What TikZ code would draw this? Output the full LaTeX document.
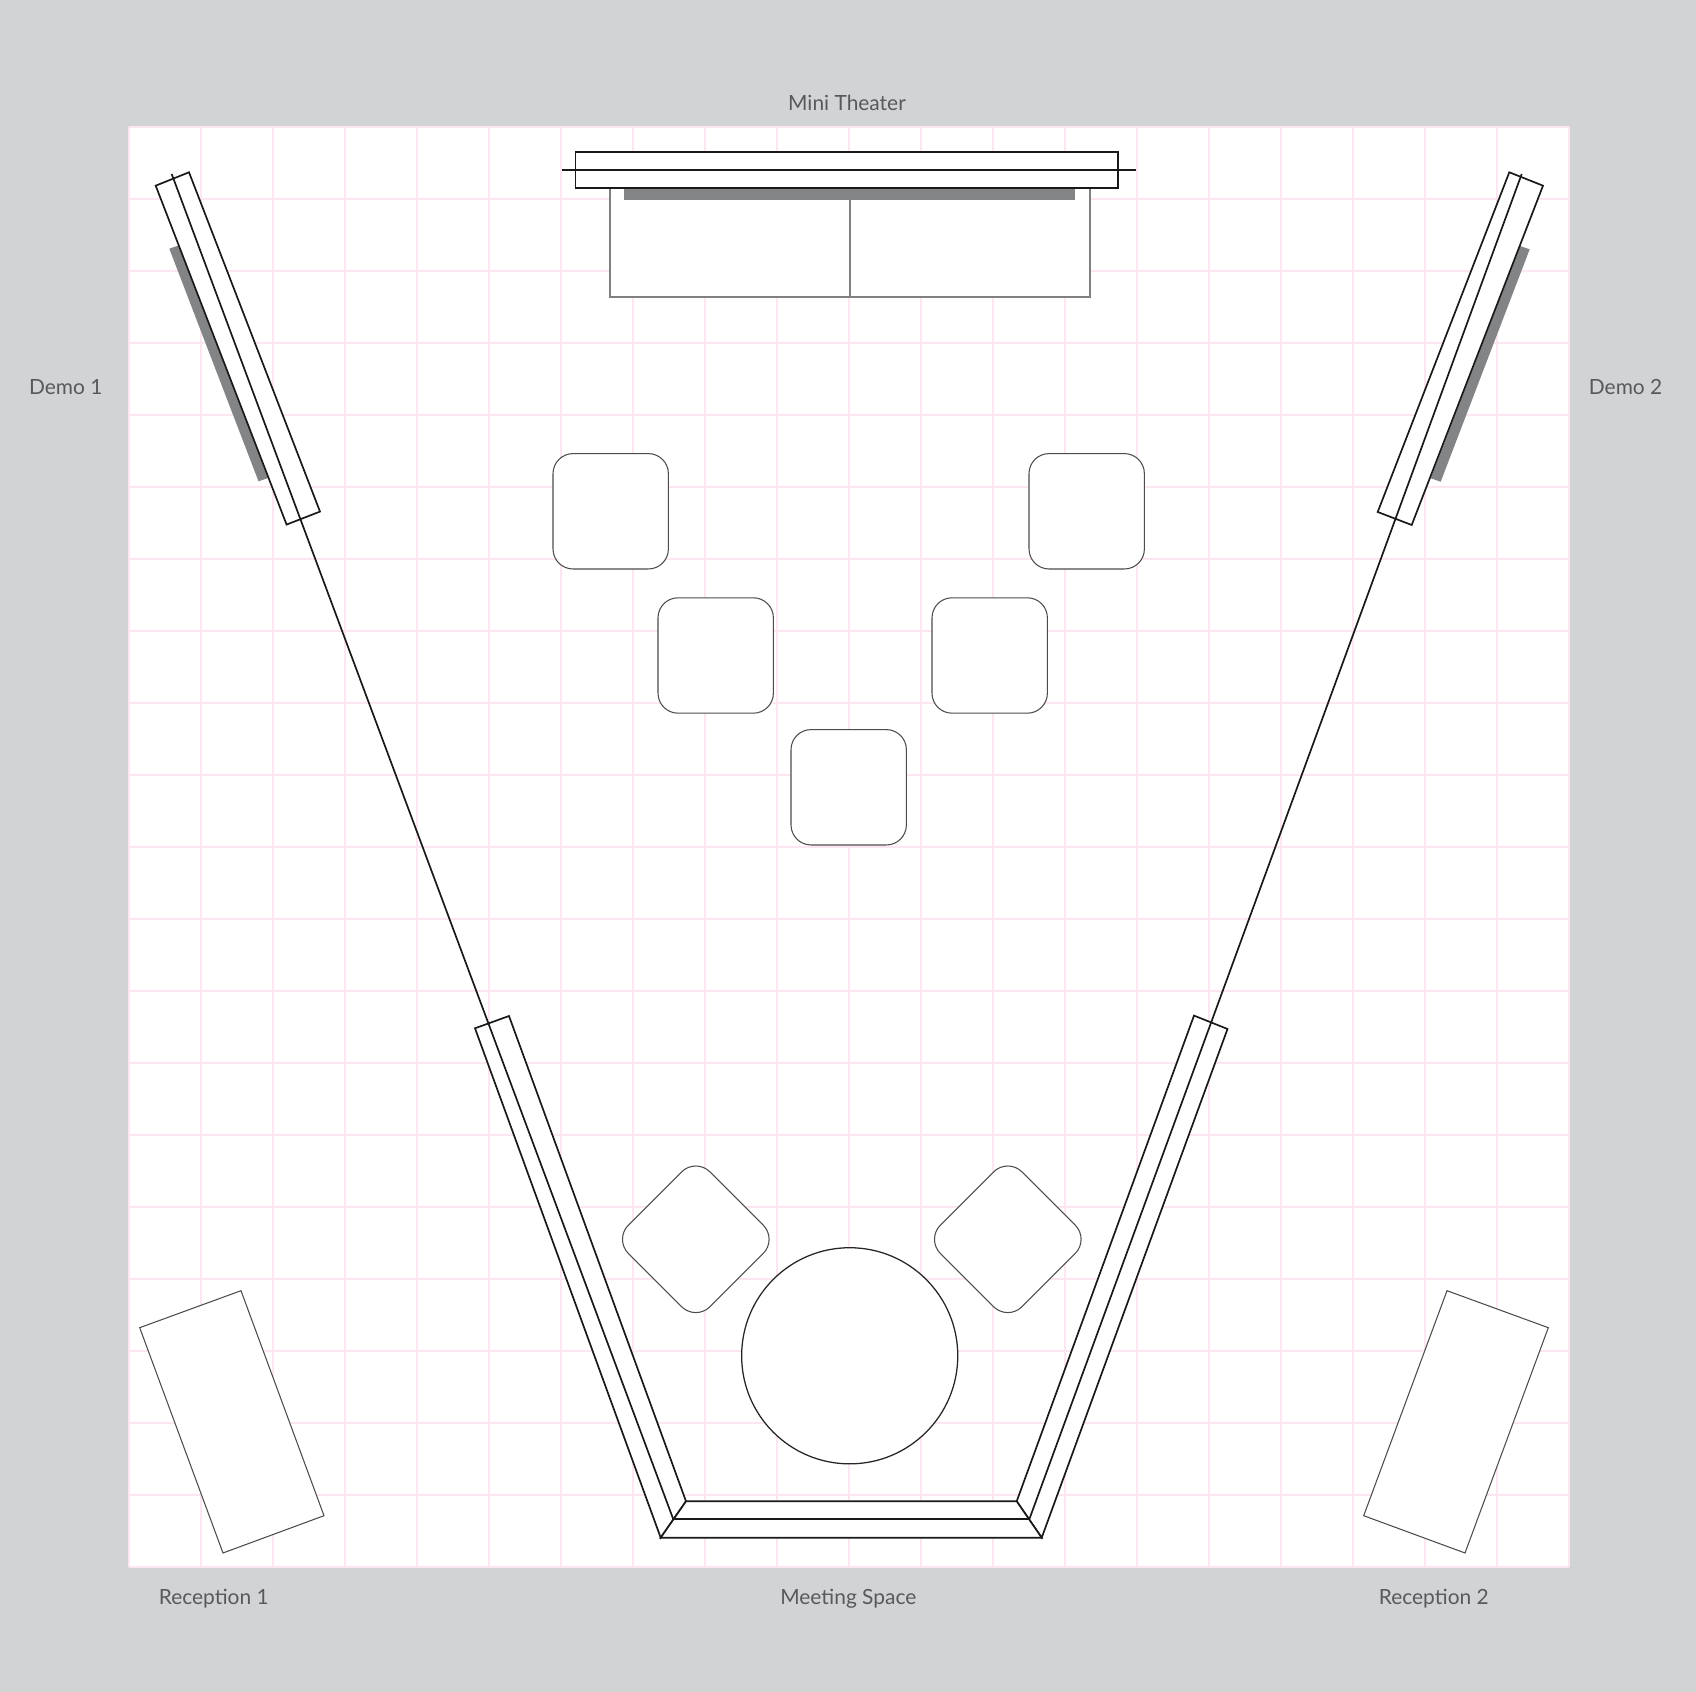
\documentclass[tikz,border=0pt]{standalone}
\usepackage{fontspec}
\setmainfont{Lato}
\definecolor{backdrop}{HTML}{D1D3D5}
\definecolor{gridpink}{HTML}{FBE6F2}
\definecolor{bargray}{HTML}{828485}
\definecolor{labelgray}{HTML}{58595B}
\tikzset{
	wall/.style={draw=black!90,fill=white,line width=0.48pt},
	wallline/.style={draw=black!90,line width=0.48pt},
	furniture/.style={draw=black!70,fill=white,line width=0.3pt},
	seat/.style={furniture,rectangle,rounded corners=0.2cm,minimum size=1.153cm,inner sep=0pt},
	roomlabel/.style={text=labelgray,font=\fontsize{5.95pt}{7pt}\selectfont,inner sep=0pt}
}
\begin{document}
\begin{tikzpicture}[x=0.01cm,y=-0.01cm]
	\useasboundingbox (0,0) rectangle (1696,1692);
	\fill[backdrop] (0,0) rectangle (1696,1692);
	\fill[white] (129,127) rectangle (1569,1567);
	\foreach \k in {0,...,20} {
		\draw[gridpink,line width=0.36pt] ({129+72*\k},127) -- ({129+72*\k},1567);
		\draw[gridpink,line width=0.36pt] (129,{127+72*\k}) -- (1569,{127+72*\k});
	}
	% mini theater
	\draw[furniture,draw=black!50,line width=0.33pt] (610,188) rectangle (1090,297);
	\draw[black!50,line width=0.33pt] (850,188) -- (850,297);
	\fill[bargray] (624.2,188) rectangle (1075,200.3);
	\draw[wall] (575.6,152) rectangle (1118,188);
	\draw[wallline] (562,169.7) -- (1136,169.7);
	% demo walls
	\fill[bargray] (169.3,248.7) -- (179,245.3) -- (268.2,478) -- (258.5,481.3) -- cycle;
	\fill[bargray] (1520,246) -- (1529.7,249.3) -- (1440.7,481.7) -- (1430.7,478.3) -- cycle;
	\draw[wall] (155.7,185.7) -- (189,172.3) -- (320,511.6) -- (286.6,524.6) -- cycle;
	\draw[wall] (1509.3,172.3) -- (1543,185.7) -- (1411.7,525) -- (1377.7,512) -- cycle;
	% meeting space
	\draw[wall] (475,1028.3) -- (509,1016) -- (686,1501.3) -- (660.7,1537.7) -- cycle;
	\draw[wall] (1194,1015.6) -- (1227.5,1029) -- (1041.7,1537.7) -- (1016.7,1501.3) -- cycle;
	\draw[wall] (660.7,1537.7) -- (1041.7,1537.7) -- (1016.7,1501.3) -- (686,1501.3) -- cycle;
	\draw[wallline] (673.3,1519.3) -- (1029.3,1519.3);
	\draw[wallline] (171.7,174) -- (673.3,1519.3);
	\draw[wallline] (1521.7,174) -- (1029.3,1519.3);
	% seats
	\node[seat] (seatA) at (610.7,511.3) {};
	\node[seat] (seatB) at (1086.7,511.3) {};
	\node[seat] (seatC) at (715.7,655.5) {};
	\node[seat] (seatD) at (989.7,655.5) {};
	\node[seat] (seatE) at (848.7,787.3) {};
	\node[seat,rotate=45] (chairL) at (695.8,1239.3) {};
	\node[seat,rotate=45] (chairR) at (1007.8,1239.3) {};
	\node[circle,draw=black!85,fill=white,line width=0.36pt,minimum size=2.16cm,inner sep=0pt] (meetingtable) at (849.7,1355.8) {};
	% reception desks
	\draw[furniture] (139.7,1327.7) -- (241,1290.7) -- (324,1515.7) -- (223,1553) -- cycle;
	\draw[furniture] (1447,1290.7) -- (1548.3,1327.7) -- (1465,1553) -- (1363.7,1515.7) -- cycle;
	% labels
	\node[roomlabel] (theaterlabel) at (847,102.7) {Mini Theater};
	\node[roomlabel] (meetinglabel) at (848.3,1598.9) {Meeting Space};
	\node[roomlabel] (demo1label) at (65.8,387) {Demo 1};
	\node[roomlabel] (demo2label) at (1625.6,387) {Demo 2};
	\node[roomlabel] (reception1label) at (213.8,1598.7) {Reception 1};
	\node[roomlabel] (reception2label) at (1433.8,1598.7) {Reception 2};
\end{tikzpicture}
\end{document}
